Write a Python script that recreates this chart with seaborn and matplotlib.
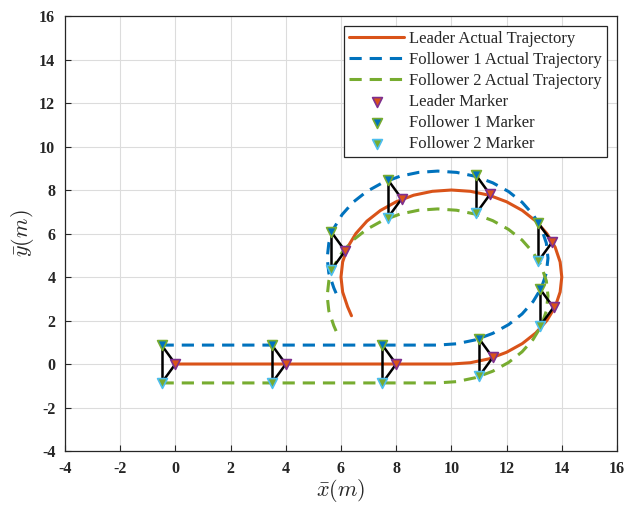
import matplotlib
matplotlib.use("Agg")
import matplotlib.pyplot as plt
import numpy as np
import seaborn as sns

# leader path (straight run then the loop)
leader_x = [0.0, 10.0, 10.69, 11.37, 12.0, 12.57, 13.06, 13.46, 13.76, 13.94, 14.0,
            13.94, 13.76, 13.46, 13.06, 12.57, 12.0, 11.37, 10.69, 10.0, 9.31, 8.63,
            8.0, 7.43, 6.94, 6.54, 6.24, 6.06, 6.0, 6.06, 6.24, 6.38]
leader_y = [0.0, 0.0, 0.06, 0.24, 0.54, 0.94, 1.43, 2.0, 2.63, 3.31, 4.0,
            4.69, 5.37, 6.0, 6.57, 7.06, 7.46, 7.76, 7.94, 8.0, 7.94, 7.76,
            7.46, 7.06, 6.57, 6.0, 5.37, 4.69, 4.0, 3.31, 2.63, 2.22]

f1_x = [-0.5, 9.5, 10.19, 10.87, 11.5, 12.07, 12.56, 12.96, 13.26, 13.44, 13.5,
        13.44, 13.26, 12.96, 12.56, 12.07, 11.5, 10.87, 10.19, 9.5, 8.81, 8.13,
        7.5, 6.93, 6.44, 6.04, 5.74, 5.56, 5.5, 5.56, 5.74, 5.88]
f1_y = [0.87, 0.87, 0.93, 1.11, 1.41, 1.81, 2.3, 2.87, 3.5, 4.18, 4.87,
        5.56, 6.24, 6.87, 7.44, 7.93, 8.33, 8.63, 8.81, 8.87, 8.81, 8.63,
        8.33, 7.93, 7.44, 6.87, 6.24, 5.56, 4.87, 4.18, 3.5, 3.09]

f2_x = [-0.5, 9.5, 10.19, 10.87, 11.5, 12.07, 12.56, 12.96, 13.26, 13.44, 13.5,
        13.44, 13.26, 12.96, 12.56, 12.07, 11.5, 10.87, 10.19, 9.5, 8.81, 8.13,
        7.5, 6.93, 6.44, 6.04, 5.74, 5.56, 5.5, 5.56, 5.74, 5.88]
f2_y = [-0.87, -0.87, -0.81, -0.63, -0.33, 0.07, 0.56, 1.13, 1.76, 2.44, 3.13,
        3.82, 4.5, 5.13, 5.7, 6.19, 6.59, 6.89, 7.07, 7.13, 7.07, 6.89,
        6.59, 6.19, 5.7, 5.13, 4.5, 3.82, 3.13, 2.44, 1.76, 1.35]

# formation snapshots (marker positions)
lead_mk_x = [0.0, 4.0, 8.0, 11.5, 13.7, 13.65, 11.4, 8.2, 6.15]
lead_mk_y = [0.0, 0.0, 0.0, 0.3, 2.6, 5.6, 7.8, 7.6, 5.2]
f1_mk_x = [-0.5, 3.5, 7.5, 11.0, 13.2, 13.15, 10.9, 7.7, 5.65]
f1_mk_y = [0.87, 0.87, 0.87, 1.17, 3.47, 6.47, 8.67, 8.47, 6.07]
f2_mk_x = [-0.5, 3.5, 7.5, 11.0, 13.2, 13.15, 10.9, 7.7, 5.65]
f2_mk_y = [-0.87, -0.87, -0.87, -0.57, 1.73, 4.73, 6.93, 6.73, 4.33]

ORANGE = "#D95319"
BLUE = "#0072BD"
GREEN = "#77AC30"
PURPLE = "#7E2F8E"
CYAN = "#4DBEEE"

sns.set_theme(style="ticks")
plt.rcParams["font.family"] = ["Liberation Serif", "DejaVu Serif"]
plt.rcParams["mathtext.fontset"] = "cm"
plt.rcParams["axes.unicode_minus"] = False

fig = plt.figure(figsize=(6.26, 5.05), dpi=100)
ax = fig.add_axes([0.1038, 0.1069, 0.8818, 0.8614])

dash = (0, (4, 2.6))
sns.lineplot(x=leader_x, y=leader_y, sort=False, estimator=None, color=ORANGE,
             lw=2.2, ax=ax, label="Leader Actual Trajectory")
sns.lineplot(x=f1_x, y=f1_y, sort=False, estimator=None, color=BLUE,
             lw=2.2, linestyle=dash, ax=ax, label="Follower 1 Actual Trajectory")
sns.lineplot(x=f2_x, y=f2_y, sort=False, estimator=None, color=GREEN,
             lw=2.2, linestyle=dash, ax=ax, label="Follower 2 Actual Trajectory")

# black formation triangles, drawn edge by edge: f1 -> f2, f2 -> leader, leader -> f1
for k in range(len(lead_mk_x)):
    ax.plot([f1_mk_x[k], f2_mk_x[k]], [f1_mk_y[k], f2_mk_y[k]],
            color="black", lw=1.8, zorder=4)
    ax.plot([f2_mk_x[k], lead_mk_x[k]], [f2_mk_y[k], lead_mk_y[k]],
            color="black", lw=1.8, zorder=4)
    ax.plot([lead_mk_x[k], f1_mk_x[k]], [lead_mk_y[k], f1_mk_y[k]],
            color="black", lw=1.8, zorder=4)

sns.scatterplot(x=lead_mk_x, y=lead_mk_y, marker="v", s=50, color=ORANGE,
                edgecolor=PURPLE, linewidth=1.2, ax=ax, label="Leader Marker", zorder=5)
sns.scatterplot(x=f1_mk_x, y=f1_mk_y, marker="v", s=50, color=BLUE,
                edgecolor=GREEN, linewidth=1.2, ax=ax, label="Follower 1 Marker", zorder=5)
sns.scatterplot(x=f2_mk_x, y=f2_mk_y, marker="v", s=50, color=GREEN,
                edgecolor=CYAN, linewidth=1.2, ax=ax, label="Follower 2 Marker", zorder=5)

ax.set_xlim(-4, 16)
ax.set_ylim(-4, 16)
ax.set_xticks(np.arange(-4, 17, 2))
ax.set_yticks(np.arange(-4, 17, 2))
ax.grid(True, color="#dcdcdc", lw=0.8)
ax.set_axisbelow(True)
for s in ax.spines.values():
    s.set_visible(True)
    s.set_color("#262626")
    s.set_linewidth(0.9)
ax.tick_params(direction="in", length=4, width=0.8, colors="#262626",
               labelsize=11.5, pad=7)
for lab in ax.get_xticklabels() + ax.get_yticklabels():
    lab.set_fontweight("bold")
    lab.set_color("#262626")

ax.set_xlabel(r"$\bar{x}(m)$", fontsize=16, color="#262626", labelpad=0)
ax.set_ylabel(r"$\bar{y}(m)$", fontsize=16, color="#262626", labelpad=2)

leg = ax.legend(loc="upper right", fontsize=12, handlelength=3.3,
                borderaxespad=0.6, labelspacing=0.3, handletextpad=0.3,
                frameon=True, fancybox=False, framealpha=1, borderpad=0.3)
leg.get_frame().set_edgecolor("#262626")
leg.get_frame().set_linewidth(0.9)

fig.savefig("out.png", dpi=100)
